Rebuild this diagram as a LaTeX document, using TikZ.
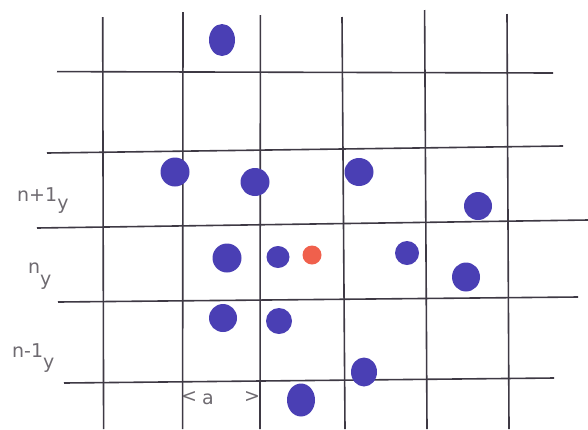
\documentclass[tikz,border=0pt]{standalone}
\usepackage{fontspec}
\setsansfont{DejaVu Sans}
\usetikzlibrary{positioning}
\definecolor{latLinea}{HTML}{3E3944}
\definecolor{latAzul}{HTML}{4A3FB4}
\definecolor{latRojo}{HTML}{F0604C}
\definecolor{latLapiz}{HTML}{6E6A70}

\begin{document}
\begin{tikzpicture}[x=1pt, y=-1pt,
      rejilla/.style={draw=latLinea, line width=1.6pt},
      atomo/.style={fill=latAzul},
      etiq/.style={text=latLapiz, font=\fontsize{19}{19}\selectfont\sffamily, inner sep=0pt}]
    \useasboundingbox (0,0) rectangle (588,429);
    % rejilla: columnas
    \draw[rejilla] (102.7,17) -- (103.6,429);
    \draw[rejilla] (183,12) -- (182.6,429);
    \draw[rejilla] (260.4,15) -- (260,429);
    \draw[rejilla] (342,17) -- (345,429);
    \draw[rejilla] (424.6,10) -- (427,429);
    \draw[rejilla] (507,14) -- (509,429);
    % rejilla: filas
    \draw[rejilla] (57,71.6) -- (553,73);
    \draw[rejilla] (47,153) -- (563,146);
    \draw[rejilla] (37,228) -- (588,220);
    \draw[rejilla] (58,302) -- (578,297);
    \draw[rejilla] (64,383) -- (554,378);
    % atomos
    \foreach \x/\y/\rx/\ry in {222/40/13/16, 175/172/14.5/14.5, 255/182/14.5/14, 359/172/14.5/14,
        478/206/14/14, 227/258/14.5/14.5, 278/257/11.5/11, 466/277/14/14.5, 407/253/12/12,
        223/318/14/14, 279/321/13/13, 364/372/13/14.5, 301/400/14/16.5}
      \fill[atomo] (\x,\y) ellipse [x radius=\rx, y radius=\ry];
    \fill[latRojo] (312,255) circle [radius=9.5];
    % etiquetas de fila
    \node[etiq, anchor=base west] (fsup) at (17,201) {n+1\raisebox{-8pt}{y}};
    \node[etiq, anchor=base west] (fmed) at (28,273) {n\raisebox{-12pt}{y}};
    \node[etiq, anchor=base west] (finf) at (12,357) {n-1\raisebox{-11pt}{y}};
    % constante de red
    \node[etiq] (aizq) at (189,397) {<};
    \node[etiq] (aval) at (208,399) {a};
    \node[etiq] (ader) at (252,397) {>};
\end{tikzpicture}
\end{document}
